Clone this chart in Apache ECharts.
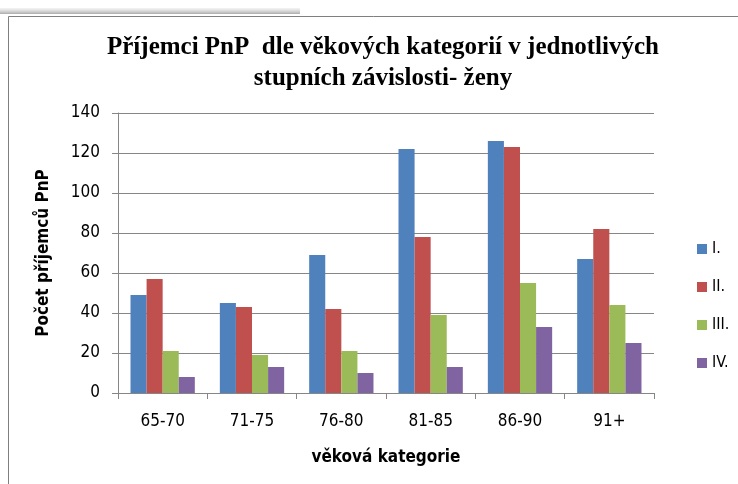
<!DOCTYPE html>
<html>
<head>
<meta charset="utf-8">
<script src="https://cdn.jsdelivr.net/npm/echarts@6/dist/echarts.min.js"></script>
<style>
  html, body { margin: 0; padding: 0; background: #fff; }
  #chart { width: 738px; height: 484px; }
</style>
</head>
<body>
<div id="chart"></div>
<script>
var categories = ['65-70', '71-75', '76-80', '81-85', '86-90', '91+'];
var seriesNames = ['I.', 'II.', 'III.', 'IV.'];
var stupenI = [49, 45, 69, 122, 126, 67];
var stupenII = [57, 43, 42, 78, 123, 82];
var stupenIII = [21, 19, 21, 39, 55, 44];
var stupenIV = [8, 13, 10, 13, 33, 25];
var yTicks = [0, 20, 40, 60, 80, 100, 120, 140];

var colors = ['#4F81BD', '#C0504D', '#9BBB59', '#8064A2'];
var labelFont = "'DejaVu Sans Condensed', 'Liberation Sans Narrow', sans-serif";

var chartDom = document.getElementById('chart');
var myChart = echarts.init(chartDom);

var allValues = [stupenI, stupenII, stupenIII, stupenIV];
var series = [];
for (var i = 0; i < seriesNames.length; i++) {
    series.push({
        name: seriesNames[i],
        type: 'bar',
        data: allValues[i],
        barGap: '0%',
        barCategoryGap: '28%',
        itemStyle: { color: colors[i] }
    });
}

var option = {
    animation: false,
    color: colors,
    title: {
        text: 'Příjemci PnP  dle věkových kategorií v jednotlivých\nstupních závislosti- ženy',
        left: 378,
        top: 27,
        textAlign: 'center',
        textStyle: {
            fontFamily: "'Liberation Serif', 'Times New Roman', serif",
            fontWeight: 'bold',
            fontSize: 25,
            lineHeight: 31,
            color: '#000'
        }
    },
    legend: {
        orient: 'vertical',
        left: 692,
        top: 236,
        itemGap: 22,
        itemWidth: 10,
        itemHeight: 10,
        icon: 'rect',
        textStyle: { fontFamily: labelFont, fontSize: 16, color: '#000' },
        data: seriesNames
    },
    grid: {
        left: 118,
        right: 84,
        top: 113,
        bottom: 91
    },
    xAxis: {
        type: 'category',
        data: categories,
        name: 'věková kategorie',
        nameLocation: 'middle',
        nameGap: 56,
        nameTextStyle: { fontFamily: labelFont, fontWeight: 'bold', fontSize: 17, color: '#000' },
        axisLine: { lineStyle: { color: '#868686', width: 1 } },
        axisTick: { show: true, length: 6, lineStyle: { color: '#868686' } },
        axisLabel: { fontFamily: labelFont, fontSize: 17, color: '#000', margin: 20 }
    },
    yAxis: {
        type: 'value',
        min: yTicks[0],
        max: yTicks[yTicks.length - 1],
        interval: 20,
        name: 'Počet příjemců PnP',
        nameLocation: 'middle',
        nameGap: 66,
        nameTextStyle: { fontFamily: labelFont, fontWeight: 'bold', fontSize: 17, color: '#000' },
        axisLine: { show: true, lineStyle: { color: '#868686', width: 1 } },
        axisTick: { show: true, length: 6, lineStyle: { color: '#868686' } },
        axisLabel: { fontFamily: labelFont, fontSize: 17, color: '#000', margin: 18 },
        splitLine: { show: true, lineStyle: { color: '#868686', width: 1 } }
    },
    graphic: [
        {
            type: 'rect',
            shape: { x: 0, y: 8, width: 300, height: 6 },
            style: {
                fill: new echarts.graphic.LinearGradient(0, 0, 0, 1, [
                    { offset: 0, color: 'rgba(200,200,200,0.2)' },
                    { offset: 1, color: 'rgba(150,150,150,0.8)' }
                ])
            },
            silent: true
        },
        {
            type: 'polyline',
            shape: { points: [[8.5, 484], [8.5, 16.5], [738, 16.5]] },
            style: { stroke: '#7f7f7f', lineWidth: 1, fill: null },
            silent: true
        }
    ],
    series: series
};

option && myChart.setOption(option);
</script>
</body>
</html>
